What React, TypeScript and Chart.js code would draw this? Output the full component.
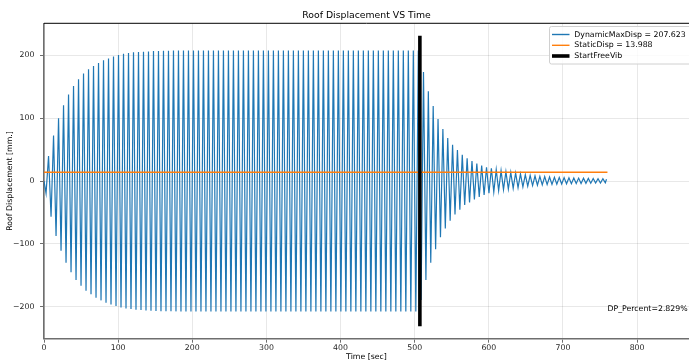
import React, { useEffect, useRef } from 'react';
import { Chart, registerables } from 'chart.js';

Chart.register(...registerables);

// ---- text ----
const TITLE = 'Roof Displacement VS Time';
const X_LABEL = 'Time [sec]';
const Y_LABEL = 'Roof Displacement [mm.]';
const DYNAMIC_LABEL = 'DynamicMaxDisp = 207.623';
const STATIC_LABEL = 'StaticDisp = 13.988';
const VIB_LABEL = 'StartFreeVib';
const DP_TEXT = 'DP_Percent=2.829%';

// ---- axes ----
const X_TICKS = [0, 100, 200, 300, 400, 500, 600, 700, 800];
const Y_TICKS = [-200, -100, 0, 100, 200];
const X_MIN = 0;
const X_MAX = 870;
const Y_MIN = -251;
const Y_MAX = 251;

// ---- roof displacement: forced phase, extrema (alternating trough / peak) ----
const FORCED_START = [0, 0]; // [time, value]
const FORCED_T0 = 2.77; // time of first extremum
const FORCED_HALF_PERIOD = 3.37; // seconds between successive extrema
const FORCED_TROUGHS = [
  -19.6, -56.8, -87.6, -111, -130, -145.4, -157.6, -166.6, -174.5, -180.4,
  -185.8, -190, -193.8, -196.4, -199, -201.2, -202.8, -203.8, -205, -205.4,
  -206, -206.5, -207, -207.2, -207.3, -207.4, -207.5,
  -207.6, -207.6, -207.6, -207.6, -207.6, -207.6, -207.6, -207.6, -207.6, -207.6,
  -207.6, -207.6, -207.6, -207.6, -207.6, -207.6, -207.6, -207.6, -207.6, -207.6,
  -207.6, -207.6, -207.6, -207.6, -207.6, -207.6, -207.6, -207.6, -207.6, -207.6,
  -207.6, -207.6, -207.6, -207.6, -207.6, -207.6, -207.6, -207.6, -207.6, -207.6,
  -207.6, -207.6, -207.6, -207.6, -207.6, -207.6, -207.6, -207.6,
];
const FORCED_PEAKS = [
  39.8, 72.2, 100, 120.6, 137.6, 151, 162, 171, 178, 183,
  188, 192, 195, 198, 200.5, 202.6, 203.7, 204.8, 205.3, 205.8,
  206.3, 206.9, 207, 207.2, 207.4, 207.5,
  207.6, 207.6, 207.6, 207.6, 207.6, 207.6, 207.6, 207.6, 207.6, 207.6,
  207.6, 207.6, 207.6, 207.6, 207.6, 207.6, 207.6, 207.6, 207.6, 207.6,
  207.6, 207.6, 207.6, 207.6, 207.6, 207.6, 207.6, 207.6, 207.6, 207.6,
  207.6, 207.6, 207.6, 207.6, 207.6, 207.6, 207.6, 207.6, 207.6, 207.6,
  207.6, 207.6, 207.6, 207.6, 207.6, 207.6, 207.6, 207.6, 207.6,
];

// ---- roof displacement: free vibration phase, extrema (trough first) ----
const FREE_T0 = 508.6;
const FREE_HALF_PERIOD = 3.27;
const FREE_TROUGHS = [
  -189.5, -157.6, -130, -108.8, -89.7, -75.4, -63.2, -53.1, -45.6, -38.2,
  -34, -29.2, -25.5, -22.3, -19.6, -17.5, -15.4, -13.8, -12.7, -11.7,
  -10.6, -9.4, -8.3, -7.3, -6.6, -6.1, -5.7, -5.4, -5.0, -4.7,
  -4.5, -4.3, -4.1, -3.9, -3.7, -3.5, -3.3, -3.1, -3.0,
];
const FREE_PEAKS = [
  173.6, 142.8, 119.4, 98.7, 82.8, 68.5, 57.8, 49.4, 41.9, 36.1,
  31.8, 27.6, 24.4, 21.8, 20.2, 18.0, 16.4, 14.8, 13.8, 12.7,
  11.3, 10.0, 8.9, 8.0, 7.4, 6.9, 6.4, 6.0, 5.7, 5.4,
  5.1, 4.8, 4.6, 4.4, 4.1, 3.9, 3.7, 3.5,
];
const END_POINT = [758.7, 2.7];

// ---- static displacement & start of free vibration ----
const STATIC_VALUE = 13.988;
const STATIC_RANGE = [0, 760];
const FREE_VIB_TIME = 507;
const FREE_VIB_RANGE = [-231, 231];
const DP_POS = [760, -204];

const BLUE = '#1f77b4';
const ORANGE = '#ff7f0e';
const FONT = '"DejaVu Sans", sans-serif';

function buildDisplacement() {
  const pts: { x: number; y: number }[] = [{ x: FORCED_START[0], y: FORCED_START[1] }];
  const nForced = FORCED_TROUGHS.length + FORCED_PEAKS.length;
  for (let i = 0; i < nForced; i++) {
    const v = i % 2 === 0 ? FORCED_TROUGHS[i / 2] : FORCED_PEAKS[(i - 1) / 2];
    pts.push({ x: FORCED_T0 + i * FORCED_HALF_PERIOD, y: v });
  }
  const nFree = FREE_TROUGHS.length + FREE_PEAKS.length;
  for (let j = 0; j < nFree; j++) {
    const v = j % 2 === 0 ? FREE_TROUGHS[j / 2] : FREE_PEAKS[(j - 1) / 2];
    pts.push({ x: FREE_T0 + j * FREE_HALF_PERIOD, y: v });
  }
  pts.push({ x: END_POINT[0], y: END_POINT[1] });
  return pts;
}

const minusLabel = (v: number) => (v < 0 ? '\u2212' + Math.abs(v) : String(v));

const overlay = {
  id: 'overlay',
  beforeDraw(chart: any) {
    const { ctx, width, height } = chart;
    ctx.save();
    ctx.fillStyle = '#ffffff';
    ctx.fillRect(0, 0, width, height);
    ctx.restore();
  },
  afterDraw(chart: any) {
    const { ctx, chartArea, scales } = chart;
    const { left, right, top, bottom } = chartArea;
    const xs = scales.x;
    const ys = scales.y;
    ctx.save();
    // top spine
    ctx.strokeStyle = '#000';
    ctx.lineWidth = 1;
    ctx.beginPath();
    ctx.moveTo(left, top);
    ctx.lineTo(right, top);
    ctx.stroke();

    // title
    ctx.fillStyle = '#000';
    ctx.textAlign = 'center';
    ctx.textBaseline = 'middle';
    ctx.font = `9.3px ${FONT}`;
    ctx.fillText(TITLE, (left + right) / 2, 15.5);

    // axis titles
    ctx.font = `7.8px ${FONT}`;
    ctx.fillText(X_LABEL, (left + right) / 2, 357);
    ctx.save();
    ctx.translate(10, (top + bottom) / 2);
    ctx.rotate(-Math.PI / 2);
    ctx.fillText(Y_LABEL, 0, 0);
    ctx.restore();

    // DP annotation
    ctx.textAlign = 'left';
    ctx.fillText(DP_TEXT, xs.getPixelForValue(DP_POS[0]), ys.getPixelForValue(DP_POS[1]));

    // legend
    const lx = 549.5, ly = 26.5, lw = 150, lh = 37.5, r = 2;
    ctx.beginPath();
    ctx.moveTo(lx + r, ly);
    ctx.lineTo(lx + lw - r, ly);
    ctx.arcTo(lx + lw, ly, lx + lw, ly + r, r);
    ctx.lineTo(lx + lw, ly + lh - r);
    ctx.arcTo(lx + lw, ly + lh, lx + lw - r, ly + lh, r);
    ctx.lineTo(lx + r, ly + lh);
    ctx.arcTo(lx, ly + lh, lx, ly + lh - r, r);
    ctx.lineTo(lx, ly + r);
    ctx.arcTo(lx, ly, lx + r, ly, r);
    ctx.closePath();
    ctx.fillStyle = 'rgba(255,255,255,0.8)';
    ctx.fill();
    ctx.strokeStyle = '#d0d0d0';
    ctx.lineWidth = 1;
    ctx.stroke();

    const items = [
      { label: DYNAMIC_LABEL, color: BLUE, w: 1.4, y: 34.5 },
      { label: STATIC_LABEL, color: ORANGE, w: 1.4, y: 45.3 },
      { label: VIB_LABEL, color: '#000', w: 3.6, y: 56 },
    ];
    for (const it of items) {
      ctx.strokeStyle = it.color;
      ctx.lineWidth = it.w;
      ctx.beginPath();
      ctx.moveTo(552, it.y);
      ctx.lineTo(569.5, it.y);
      ctx.stroke();
      ctx.fillStyle = '#000';
      ctx.textAlign = 'left';
      ctx.textBaseline = 'middle';
      ctx.fillText(it.label, 574.3, it.y);
    }
    ctx.restore();
  },
};

export default function App() {
  const ref = useRef<HTMLCanvasElement>(null);
  useEffect(() => {
    document.body.style.margin = '0';
    const canvas = ref.current!;
    const tickFont = { family: FONT, size: 7.8 };
    const chart = new Chart(canvas, {
      type: 'line',
      data: {
        datasets: [
          {
            label: DYNAMIC_LABEL,
            data: buildDisplacement(),
            borderColor: BLUE,
            borderWidth: 1.2,
            pointRadius: 0,
            tension: 0,
            order: 3,
          },
          {
            label: STATIC_LABEL,
            data: [
              { x: STATIC_RANGE[0], y: STATIC_VALUE },
              { x: STATIC_RANGE[1], y: STATIC_VALUE },
            ],
            borderColor: ORANGE,
            borderWidth: 1.5,
            pointRadius: 0,
            order: 2,
          },
          {
            label: VIB_LABEL,
            data: [
              { x: FREE_VIB_TIME, y: FREE_VIB_RANGE[0] },
              { x: FREE_VIB_TIME, y: FREE_VIB_RANGE[1] },
            ],
            borderColor: '#000',
            borderWidth: 3.6,
            pointRadius: 0,
            order: 1,
          },
        ],
      },
      options: {
        animation: false,
        responsive: false,
        events: [],
        layout: { padding: { top: 23.3, left: 0, right: 0, bottom: 0 } },
        plugins: {
          legend: { display: false },
          title: { display: false },
          tooltip: { enabled: false },
        },
        scales: {
          x: {
            type: 'linear',
            min: X_MIN,
            max: X_MAX,
            afterBuildTicks: (s: any) => {
              s.ticks = X_TICKS.map((v) => ({ value: v }));
            },
            afterFit: (s: any) => {
              s.height = 21.3;
            },
            ticks: {
              font: tickFont,
              color: '#262626',
              padding: 1,
              maxRotation: 0,
              autoSkip: false,
              callback: (v: any) => minusLabel(Number(v)),
            },
            grid: {
              color: 'rgba(0,0,0,0.09)',
              lineWidth: 1,
              tickLength: 4,
              tickColor: '#6e6e6e',
              tickWidth: 1,
            },
            border: { color: '#6e6e6e', width: 1.6 },
          },
          y: {
            type: 'linear',
            min: Y_MIN,
            max: Y_MAX,
            afterBuildTicks: (s: any) => {
              s.ticks = Y_TICKS.map((v) => ({ value: v }));
            },
            afterFit: (s: any) => {
              s.width = 44;
            },
            ticks: {
              font: tickFont,
              color: '#262626',
              padding: 5.5,
              autoSkip: false,
              callback: (v: any) => minusLabel(Number(v)),
            },
            grid: {
              color: 'rgba(0,0,0,0.09)',
              lineWidth: 1,
              tickLength: 4,
              tickColor: '#6e6e6e',
              tickWidth: 1,
            },
            border: { color: '#6e6e6e', width: 1.6 },
          },
        },
      },
      plugins: [overlay],
    } as any);
    return () => chart.destroy();
  }, []);
  return (
    <div style={{ width: 689, height: 360 }}>
      <canvas ref={ref} width={689} height={360} style={{ display: 'block', width: 689, height: 360 }} />
    </div>
  );
}
